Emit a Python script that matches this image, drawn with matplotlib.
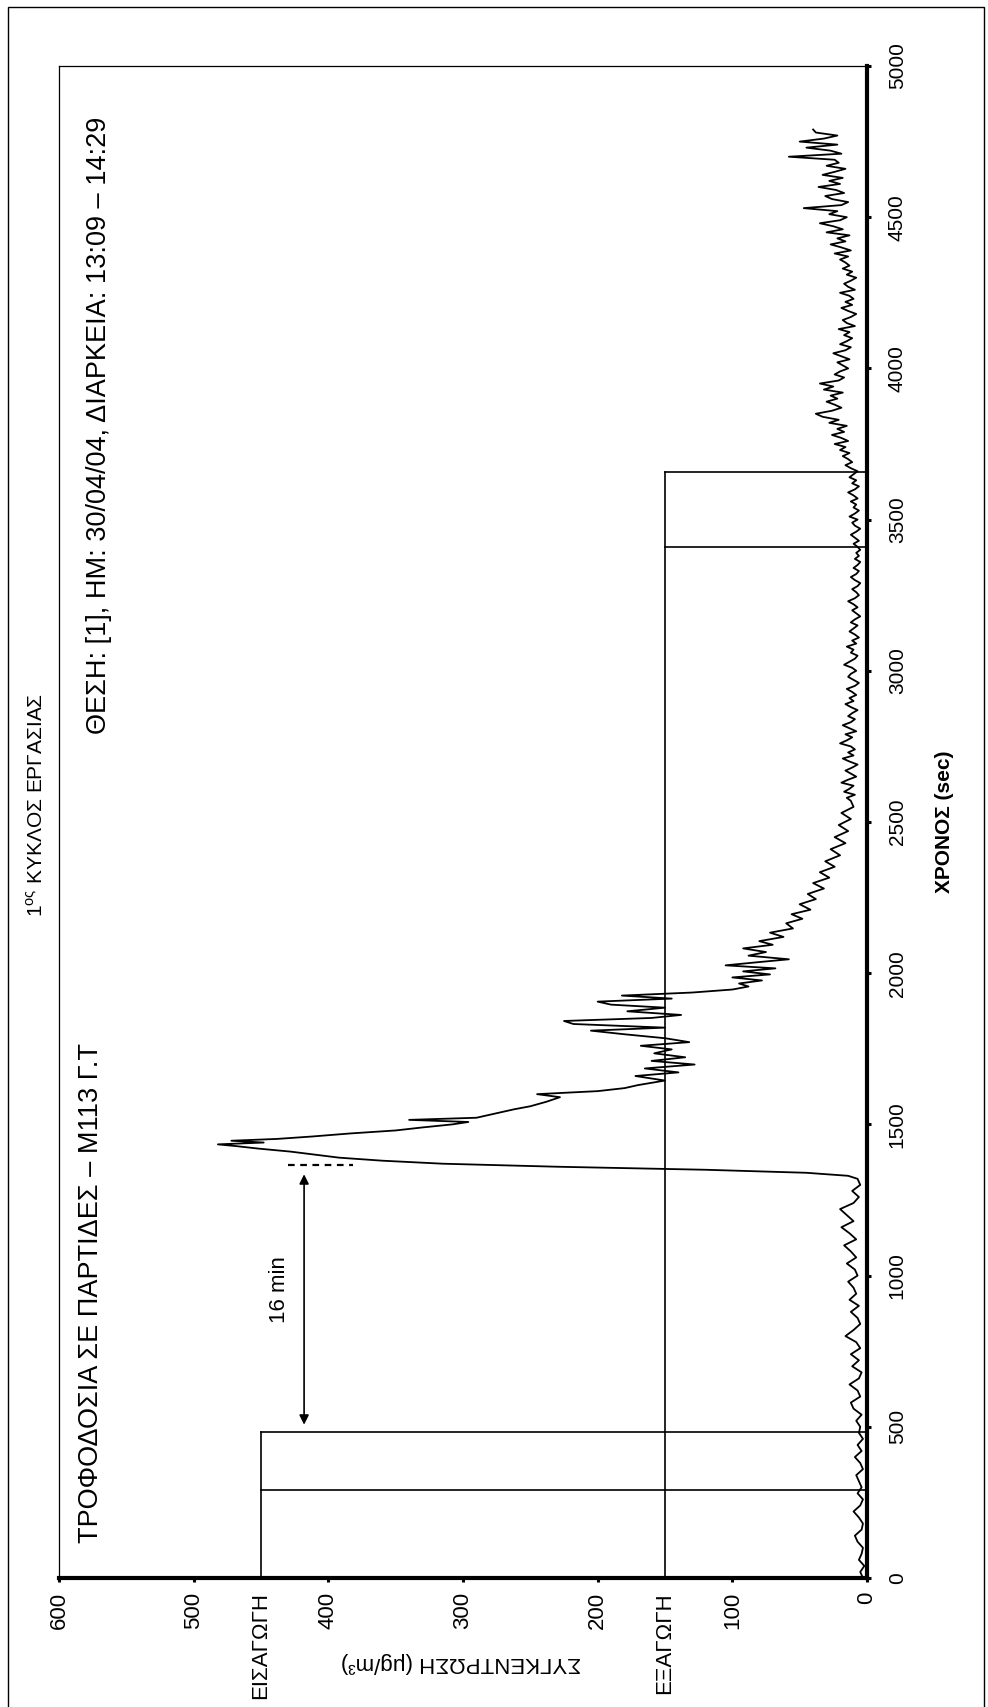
import matplotlib
matplotlib.use("Agg")
import matplotlib.pyplot as plt
from matplotlib.patches import Rectangle

plt.rcParams['font.family'] = ['Liberation Sans', 'DejaVu Sans']
plt.rcParams['mathtext.fontset'] = 'custom'
plt.rcParams['mathtext.rm'] = 'Liberation Sans'

# --- data (time in sec, concentration in ug/m3) ---
t_base = list(range(0, 1321, 20))
c_base = [3, 5, 2, 6, 4, 3, 7, 9, 4, 3, 6, 10, 5, 3, 7, 4,
          6, 8, 3, 5, 9, 4, 7, 3, 6,
          5, 8, 4, 10, 12, 5, 7, 13, 6, 4, 11, 6, 12, 5, 8, 16, 10, 5, 7, 12, 6, 13, 8, 10, 14, 7,
          9, 15, 8, 12, 17, 8, 13, 19, 10, 15, 20, 10, 6, 11, 5, 7]

t_peak = [1330, 1340, 1350, 1360, 1370, 1380, 1390, 1400, 1410, 1420, 1428, 1434, 1440, 1446,
          1452, 1460, 1470, 1480, 1490, 1500, 1508, 1515, 1522, 1530, 1540, 1550, 1560, 1575,
          1590, 1600, 1610, 1620, 1630]
c_peak = [14, 45, 120, 230, 315, 360, 392, 410, 428, 452, 468, 482, 448, 472,
          438, 412, 384, 350, 330, 308, 296, 340, 290, 282, 272, 262, 250, 238,
          228, 245, 200, 180, 170]

t_mid = [1645, 1660, 1672, 1685, 1698, 1710, 1722, 1735, 1748, 1760, 1772, 1785, 1798, 1810,
         1820, 1832, 1842, 1852, 1862, 1874, 1886, 1896, 1906, 1916, 1926, 1936, 1946, 1956]
c_mid = [150, 172, 140, 165, 128, 160, 135, 158, 145, 168, 132, 150, 180, 205,
         150, 218, 225, 160, 138, 178, 150, 190, 200, 145, 182, 130, 100, 88]

t_decay = [1966, 1976, 1986, 1996, 2006, 2016, 2026, 2036, 2046, 2058, 2070, 2082, 2094, 2106,
           2120, 2134, 2148, 2165, 2180, 2195, 2210, 2228, 2245, 2262, 2280, 2298, 2316, 2334,
           2352, 2370, 2390, 2410, 2430, 2450, 2470, 2490, 2510, 2530, 2550]
c_decay = [95, 78, 100, 72, 92, 68, 105, 82, 58, 88, 75, 92, 70, 80,
           62, 72, 55, 60, 48, 56, 42, 50, 38, 44, 32, 40, 28, 35,
           24, 31, 20, 27, 16, 24, 14, 21, 12, 19, 10]

t_tail = list(range(2570, 4791, 10))
c_tail = [12, 15, 9, 17, 13, 10, 19, 14, 8, 12,
          16, 11, 7, 13, 18, 10, 14, 9, 12, 20,
          15, 11, 16, 8, 13, 18, 12, 9, 14, 11,
          7, 12, 16, 10, 13, 8, 11, 15, 9, 6,
          10, 14, 12, 8, 11, 17, 13, 9, 7, 12,
          10, 15, 8, 11, 6, 9, 13, 10, 7, 12,
          9, 5, 8, 11, 7, 10, 14, 9, 6, 8,
          11, 7, 5, 9, 12, 8, 6, 10, 7, 5,
          9, 6, 8, 5,
          7, 10, 6, 9, 12, 8, 5, 9, 11, 7,
          13, 9, 6, 10, 8, 12, 7, 10, 14, 9,
          6, 11, 8, 13, 10, 7, 12, 16, 11, 14,
          18, 13, 20, 16, 24, 14, 19, 26, 17, 22,
          15, 28, 21, 33, 38, 26, 19, 24, 30, 22,
          27, 18, 32, 25, 35, 21, 17, 24, 20, 14,
          18, 22, 13, 19, 25, 16, 12, 20, 15, 11,
          17, 13, 21, 9, 15, 18, 12, 8, 14, 19,
          11, 16, 10, 13, 20, 9, 14, 17, 12, 8,
          15, 11, 18, 13, 16,
          20, 14, 24, 12, 19, 27, 16, 22, 13, 30,
          18, 25, 35, 20, 15, 28, 22, 47, 19, 14,
          26, 31, 17, 23, 36, 20, 28, 18, 33, 24,
          16, 30, 21, 24, 58, 19, 27, 45, 22, 50,
          32, 22, 38, 40]

time_s = t_base + t_peak + t_mid + t_decay + t_tail
conc = c_base + c_peak + c_mid + c_decay + c_tail

# feed in / feed out markers
feed_in_level = 450
feed_in_times = [290, 482]
feed_out_level = 150
feed_out_times = [3410, 3658]
delay_start, delay_end = 482, 1365

conc_ticks = [0, 100, 200, 300, 400, 500, 600]
time_ticks = list(range(0, 5001, 500))

W, H = 988, 1707
fig = plt.figure(figsize=(W / 100, H / 100), dpi=100)
fig.patch.set_facecolor('white')


def fx(x):
    return x / W


def fy(y):
    return 1 - y / H


ax = fig.add_axes([fx(59), fy(1578), fx(867) - fx(59), fy(66) - fy(1578)])

# chart is drawn turned by 90 deg: concentration runs right->left, time bottom->top
ax.plot(conc, time_s, color='black', lw=1.3)

for lvl, (t1, t2) in [(feed_in_level, feed_in_times), (feed_out_level, feed_out_times)]:
    ax.plot([lvl, lvl], [0, t2], color='black', lw=1.2)
    ax.plot([0, lvl], [t1, t1], color='black', lw=1.2)
    ax.plot([0, lvl], [t2, t2], color='black', lw=1.2)

ax.plot([430, 382], [delay_end, delay_end], color='black', lw=1.6, ls=(0, (3, 2.5)))
ax.annotate('', xy=(418, delay_start + 25), xytext=(418, delay_end - 30),
            arrowprops=dict(arrowstyle='<|-|>', color='black', lw=1.2,
                            mutation_scale=14, shrinkA=0, shrinkB=0))
ax.text(436, (delay_start + delay_end) / 2 + 30, '16 min', rotation=90,
        ha='center', va='center', fontsize=16)

ax.set_xlim(600, 0)
ax.set_ylim(0, 5000)

ax.set_xticks(conc_ticks)
ax.set_xticklabels([str(v) for v in conc_ticks], rotation=90, fontsize=16)
ax.set_xticks([feed_out_level, feed_in_level], minor=True)
ax.set_xticklabels(['ΕΞΑΓΩΓΗ', 'ΕΙΣΑΓΩΓΗ'], minor=True, rotation=90, fontsize=16)
ax.tick_params(axis='x', which='major', direction='out', length=3, width=2.2, pad=7)
ax.tick_params(axis='x', which='minor', length=0, pad=10)

ax.yaxis.tick_right()
ax.set_yticks(time_ticks)
ax.set_yticklabels([str(v) for v in time_ticks], rotation=90, fontsize=15, va='center')
ax.tick_params(axis='y', direction='out', length=3, width=2.2, pad=12)

ax.yaxis.set_label_position('right')
ax.set_ylabel('ΧΡΟΝΟΣ (sec)', rotation=90, fontsize=15, fontweight='bold', labelpad=20)

for side in ['right', 'bottom']:
    ax.spines[side].set_linewidth(3)
for side in ['left', 'top']:
    ax.spines[side].set_linewidth(0.9)

# axis title for concentration sits upside down under the tick labels
fig.text(fx(461), fy(1662), 'ΣΥΓΚΕΝΤΡΩΣΗ (μg/m³)', rotation=180,
         ha='center', va='center', fontsize=16)

# texts (rotated like the rest)
fig.text(fx(36), fy(805), r'1$^{\mathregular{ος}}$ ΚΥΚΛΟΣ ΕΡΓΑΣΙΑΣ', rotation=90,
         ha='center', va='center', fontsize=15)
fig.text(fx(91), fy(1543), 'ΤΡΟΦΟΔΟΣΙΑ ΣΕ ΠΑΡΤΙΔΕΣ – Μ113 Γ.Τ', rotation=90,
         ha='center', va='bottom', fontsize=19.5)
fig.text(fx(99), fy(117), 'ΘΕΣΗ: [1], ΗΜ: 30/04/04, ΔΙΑΡΚΕΙΑ: 13:09 – 14:29', rotation=90,
         ha='center', va='top', fontsize=19.5)

# outer frame
fig.add_artist(Rectangle((fx(8), fy(1712)), fx(984) - fx(8), fy(7) - fy(1712),
                         transform=fig.transFigure, fill=False, lw=1.0, ec='black'))

fig.savefig('out.png', dpi=100)
